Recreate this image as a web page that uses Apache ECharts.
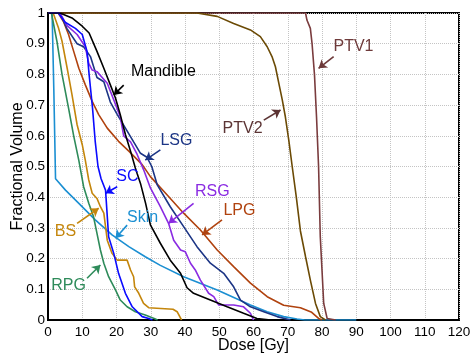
<!DOCTYPE html>
<html>
<head>
<meta charset="utf-8">
<script src="https://cdn.jsdelivr.net/npm/echarts@6.0.0/dist/echarts.min.js"></script>
<style>
  html, body { margin: 0; padding: 0; background: #fff; }
  #chart { width: 475px; height: 354px; }
</style>
</head>
<body>
<div id="chart"></div>
<script>
// [dose Gy, fractional volume]
const mandible = [[0,1],[3.5,1],[7,0.984],[10,0.957],[12,0.935],[14.3,0.875],[16.3,0.82],[18.2,0.766],[19.7,0.723],[21.1,0.669],[22.6,0.604],[24.1,0.55],[25.5,0.495],[26,0.478],[27,0.445],[28.5,0.38],[29.9,0.31],[32.8,0.25],[35.7,0.195],[38.7,0.152],[40.6,0.105],[42.5,0.087],[47.4,0.065],[52.3,0.043],[57.1,0.022],[61,0.005],[65,0]]
const lsg = [[0,1],[3.5,1],[5.5,0.95],[8.5,0.9],[10.4,0.89],[12.4,0.858],[14.3,0.79],[16.3,0.776],[18.2,0.71],[20.2,0.67],[22.6,0.625],[25,0.58],[27,0.543],[28.9,0.53],[30.3,0.5],[31.9,0.44],[35.7,0.369],[39.6,0.304],[43.5,0.239],[47.4,0.185],[51.3,0.152],[54.2,0.108],[56.2,0.065],[59.1,0.043],[63,0.027],[66.9,0.011],[70.8,0]]
const rsg = [[0,1],[3.5,1],[5.5,0.96],[8.5,0.93],[10.9,0.89],[11.9,0.836],[12.9,0.814],[14.3,0.809],[17.3,0.771],[19.2,0.717],[21.1,0.662],[22.1,0.6],[24.1,0.58],[26,0.54],[27.9,0.49],[29.9,0.43],[32.8,0.369],[35.2,0.315],[36.7,0.26],[38.7,0.228],[40.1,0.222],[41.6,0.185],[43,0.163],[44.5,0.13],[46.9,0.087],[48.4,0.076],[49.8,0.049],[54.2,0.049],[57.1,0.043],[59.1,0.022],[60,0]]
const lpg = [[0,1],[3,1],[4.6,0.97],[6,0.93],[7.5,0.875],[9,0.82],[10.9,0.766],[12.9,0.712],[14.8,0.669],[17.3,0.625],[20.6,0.582],[23.6,0.55],[27.5,0.506],[29.9,0.467],[34.8,0.407],[39.6,0.348],[44.5,0.293],[49.4,0.228],[54.2,0.174],[59.1,0.12],[64,0.076],[68.8,0.048],[73.7,0.04],[77,0.025],[79,0.005],[80,0]]
const sc = [[0,1],[3,1],[5,0.97],[8,0.95],[10,0.93],[11.4,0.875],[12,0.8],[13,0.69],[13.8,0.58],[14.6,0.5],[15.5,0.46],[16.8,0.423],[17.7,0.271],[19.2,0.217],[20.6,0.152],[22.6,0.087],[24.6,0.043],[27.5,0.011],[29.4,0.005],[30.5,0]]
const bs = [[0,1],[1.5,1],[3.1,0.95],[4.1,0.908],[5.6,0.82],[7,0.734],[8.5,0.636],[10,0.571],[10.9,0.52],[11.9,0.456],[12.9,0.413],[14.3,0.396],[15.3,0.369],[16.3,0.348],[16.8,0.304],[17.3,0.26],[18.7,0.217],[20.2,0.195],[23.1,0.195],[24.1,0.163],[25,0.141],[25.3,0.108],[26.5,0.087],[27.9,0.054],[29.4,0.04],[36.5,0.035],[37.7,0.027],[39,0]]
const rpg = [[0,1],[1,1],[2.6,0.908],[4.1,0.8],[6,0.69],[7.5,0.6],[9,0.52],[10.4,0.434],[11.9,0.38],[13.3,0.336],[14.3,0.282],[15.3,0.228],[16.3,0.185],[17.7,0.141],[19.7,0.098],[21.1,0.065],[23.1,0.043],[25.5,0.027],[28.4,0.016],[31,0.005],[32,0]]
const skin = [[0,1],[1.2,1],[1.7,0.75],[2.2,0.46],[5.1,0.423],[9,0.38],[13.8,0.326],[18.7,0.277],[23.6,0.239],[28.4,0.206],[32.8,0.178],[39.6,0.141],[49.4,0.098],[59.1,0.049],[64,0.027],[68.8,0.011],[72.7,0.003],[75,0],[90,0]]
const ptv2 = [[0,1],[43.5,1],[49.4,0.989],[54.2,0.966],[59.1,0.945],[62,0.923],[64,0.89],[65.4,0.858],[66.4,0.825],[67.4,0.771],[68.4,0.717],[69.3,0.662],[70.3,0.586],[71.3,0.5],[72.5,0.4],[73.7,0.29],[75.2,0.206],[76.6,0.13],[78.1,0.054],[79.5,0.011],[81,0]]
const ptv1 = [[0,1],[75.2,1],[75.6,0.977],[76.6,0.95],[77.1,0.9],[77.8,0.8],[78.4,0.662],[79,0.5],[79.5,0.271],[80,0.163],[80.5,0.054],[81.5,0.005],[84,0]]

const structures = [
  { name: "Skin", data: skin, color: "#1b8fd2", text: "#1b8fd2", label: [27.6, 0.332], arrow: [[23.1, 0.309], [19.7, 0.266]] },
  { name: "PTV1", data: ptv1, color: "#7a3c3e", text: "#6e3a3a", label: [89.2, 0.889], arrow: [[83.4, 0.858], [79.0, 0.82]] },
  { name: "PTV2", data: ptv2, color: "#6b4a05", text: "#5c3434", label: [56.8, 0.625], arrow: [[63.0, 0.651], [67.9, 0.684]] },
  { name: "LPG", data: lpg, color: "#b0420e", text: "#b0420e", label: [55.9, 0.355], arrow: [[50.8, 0.326], [45.0, 0.277]] },
  { name: "RPG", data: rpg, color: "#2e8b5a", text: "#2e8b5a", label: [6.0, 0.111], arrow: [[11.4, 0.136], [15.3, 0.179]] },
  { name: "BS", data: bs, color: "#c4860c", text: "#c4860c", label: [5.1, 0.287], arrow: [[8.5, 0.315], [14.8, 0.364]] },
  { name: "LSG", data: lsg, color: "#1c3585", text: "#1c3585", label: [37.5, 0.583], arrow: [[32.8, 0.554], [28.4, 0.521]] },
  { name: "RSG", data: rsg, color: "#8a2be2", text: "#8a2be2", label: [48.0, 0.417], arrow: [[42.5, 0.38], [35.2, 0.315]] },
  { name: "SC", data: sc, color: "#0a0aff", text: "#0a0aff", label: [23.2, 0.466], arrow: [[20.2, 0.434], [16.8, 0.413]] },
  { name: "Mandible", data: mandible, color: "#000000", text: "#000000", label: [33.7, 0.808], arrow: [[22.1, 0.765], [19.2, 0.733]] },
]

const font = "'Liberation Sans', Arial, sans-serif"
const chart = echarts.init(document.getElementById("chart"))

const option = {
  animation: false,
  textStyle: { fontFamily: font },
  grid: {
    left: 48, right: 16, top: 13, bottom: 34,
    containLabel: false, outerBoundsMode: "none",
    show: true, borderColor: "#000", borderWidth: 2,
  },
  xAxis: {
    type: "value",
    min: 0,
    max: 120,
    interval: 10,
    name: "Dose [Gy]",
    nameLocation: "middle",
    nameGap: 18,
    nameMoveOverlap: false,
    nameTextStyle: { fontSize: 16, color: "#000", fontFamily: font },
    axisLine: { lineStyle: { color: "#000", width: 2 } },
    axisTick: { show: false },
    axisLabel: { color: "#000", fontSize: 13.5, margin: 5, fontFamily: font },
    splitLine: { lineStyle: { color: "#c4c4c4", type: "dotted", width: 1 } },
  },
  yAxis: {
    type: "value",
    min: 0,
    max: 1,
    interval: 0.1,
    name: "Fractional Volume",
    nameLocation: "middle",
    nameGap: 22,
    nameMoveOverlap: false,
    nameTextStyle: { fontSize: 16, color: "#000", fontFamily: font },
    axisLine: { lineStyle: { color: "#000", width: 2 } },
    axisTick: { show: false },
    axisLabel: { color: "#000", fontSize: 13.5, margin: 3, fontFamily: font },
    splitLine: { lineStyle: { color: "#c4c4c4", type: "dotted", width: 1 } },
  },
  series: structures.map((s) => ({
    name: s.name,
    type: "line",
    data: s.data,
    showSymbol: false,
    silent: true,
    lineStyle: { color: s.color, width: 1.6 },
    itemStyle: { color: s.color },
    markLine: {
      silent: true,
      symbol: ["none", "arrow"],
      symbolSize: 8,
      label: { show: false },
      lineStyle: { color: s.text, width: 1.6, type: "solid" },
      data: [[{ coord: s.arrow[0] }, { coord: s.arrow[1] }]],
    },
    markPoint: {
      silent: true,
      symbol: "circle",
      symbolSize: 1,
      itemStyle: { color: "rgba(0,0,0,0)" },
      label: { show: true, position: "inside", formatter: s.name, color: s.text, fontSize: 16, fontFamily: font },
      data: [{ coord: s.label }],
    },
  })),
}

chart.setOption(option)
</script>
</body>
</html>
